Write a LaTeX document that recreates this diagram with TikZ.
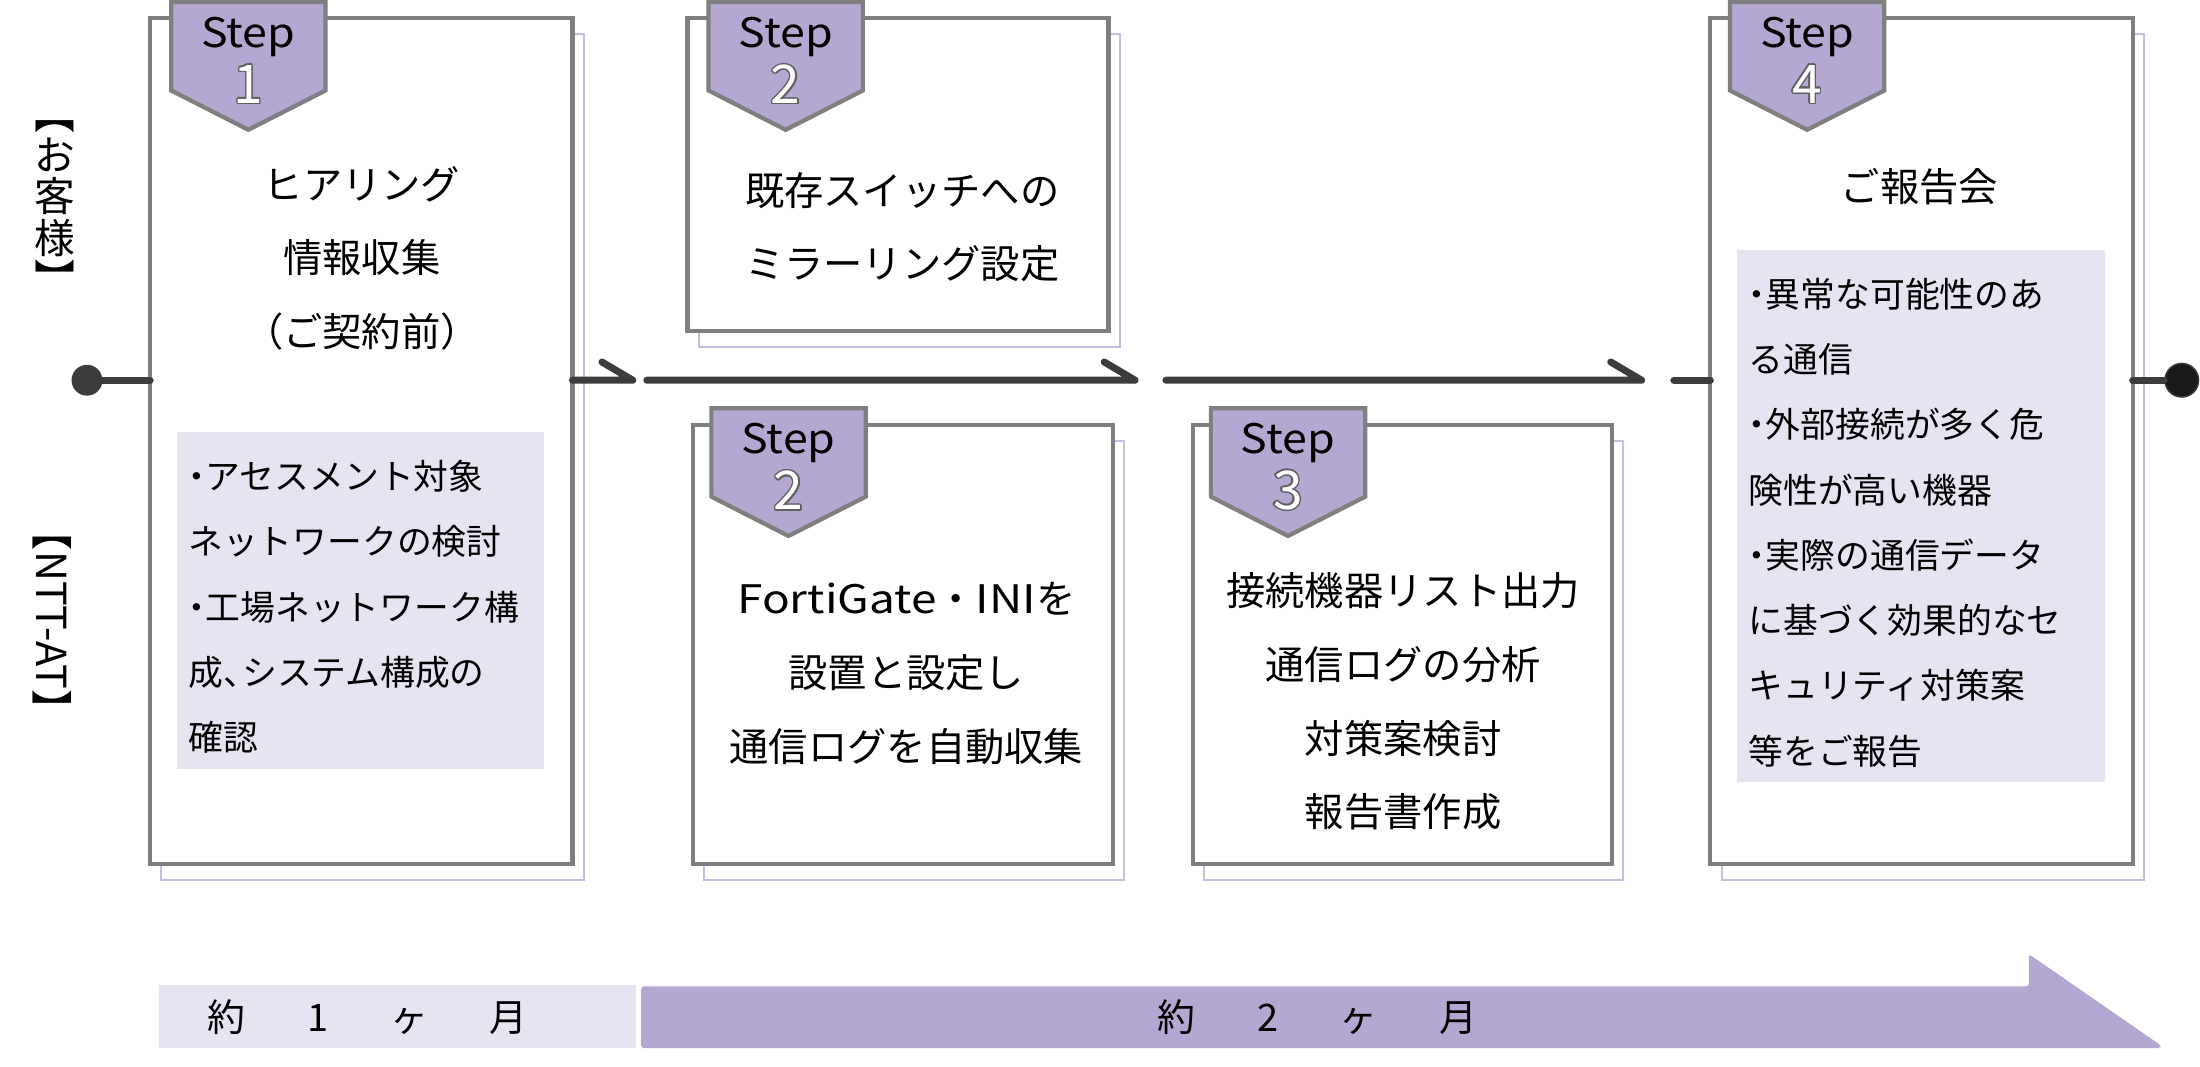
\documentclass[tikz,border=0pt]{standalone}
\usepackage{fontspec}
\setmainfont{Noto Sans CJK JP}
\usepackage{graphicx}
\usepackage[copies]{contour}
\contourlength{1pt}
\definecolor{tablav}{HTML}{B4A7D1}
\definecolor{lightlav}{HTML}{E7E3F1}
\definecolor{shadowlav}{HTML}{C7BCE2}
\definecolor{boxgray}{HTML}{7F7F7F}
\definecolor{linegray}{HTML}{3C3C3C}
\definecolor{numgray}{HTML}{606060}
\newcommand\nd{\makebox[0.5em][c]{・}}
\newcommand\tn{\makebox[0.55em][l]{、}}
\newcommand\wl[1]{\scalebox{1.17}[1]{#1}}
\newcommand\steptab[4]{%
  \draw[tabshape] (#2-55,#3) -- (#2+55,#3) -- (#2+55,#3+63) -- (#2,#3+91) -- (#2-55,#3+63) -- cycle;
  \node[steplbl] (#1s) at (#2,#3+25) {\scalebox{1.1}[1]{Step}};
  \node[stepnum] (#1n) at (#2,#3+59) {\contour{numgray}{#4}};
}
\begin{document}
\begin{tikzpicture}[x=1pt,y=-1pt,
  boxst/.style={draw=boxgray,line width=3pt,fill=white,inner sep=0,outer sep=0},
  shadowst/.style={draw=shadowlav,line width=1.5pt,inner sep=0,outer sep=0},
  innerst/.style={fill=lightlav,inner sep=0,outer sep=0},
  tabshape/.style={draw=boxgray,fill=tablav,line width=3pt,line join=miter},
  steplbl/.style={inner sep=0,font=\fontsize{29}{30}\selectfont},
  stepnum/.style={inner sep=0,text=white,font=\fontsize{38}{40}\selectfont},
  ttext/.style={inner sep=0,align=center,font=\fontsize{28}{52.5}\selectfont},
  itext/.style={inner sep=0,align=left,font=\fontsize{24.8}{46.5}\selectfont},
  vtext/.style={inner sep=0,align=center,font={\fontsize{29}{29.5}\selectfont\lineskiplimit=-50pt}},
  htext/.style={inner sep=0,font=\fontsize{29.5}{30}\selectfont},
  btext/.style={inner sep=0,font=\fontsize{27}{30}\selectfont},
  tl/.style={draw=linegray,line width=5pt,line cap=round,line join=round}]
\useasboundingbox (0,0) rectangle (1568,760);

% side labels
\node[vtext] (kyaku) at (39,140) {\rotatebox[origin=c]{-90}{【}\\お\\客\\様\\\rotatebox[origin=c]{-90}{】}};
\node[htext,rotate=-90] (nttat) at (37,442) {【NTT-AT】};

% shadows
\node[shadowst,minimum width=301,minimum height=603] (s1) at (265.5,325.5) {};
\node[shadowst,minimum width=300,minimum height=223] (s2u) at (648,135.5) {};
\node[shadowst,minimum width=299,minimum height=313] (s2l) at (651.5,470.5) {};
\node[shadowst,minimum width=299,minimum height=313] (s3) at (1007.5,470.5) {};
\node[shadowst,minimum width=301,minimum height=603] (s4) at (1377.5,325.5) {};

% timeline points
\node[circle,fill=linegray,minimum size=22,inner sep=0] (dotL) at (62,271) {};
\node[circle,fill=black!90,draw=linegray,line width=1pt,minimum size=24,inner sep=0] (dotR) at (1555,271) {};
\coordinate (c1e) at (451,271);
\coordinate (c1h) at (429,258);
\coordinate (c2s) at (461,271);
\coordinate (c2e) at (809,271);
\coordinate (c2h) at (787,258);
\coordinate (c3s) at (831,271);
\coordinate (c3e) at (1170,271);
\coordinate (c3h) at (1148,258);
\coordinate (c4s) at (1193,271);

% boxes
\node[boxst,minimum width=301,minimum height=603] (b1) at (257.5,314.5) {};
\node[boxst,minimum width=300,minimum height=223] (b2u) at (640,124.5) {};
\node[boxst,minimum width=299,minimum height=313] (b2l) at (643.5,459.5) {};
\node[boxst,minimum width=299,minimum height=313] (b3) at (999.5,459.5) {};
\node[boxst,minimum width=301,minimum height=603] (b4) at (1369.5,314.5) {};

% connectors
\draw[tl] (dotL) -- (b1.west |- dotL);
\draw[tl] (b1.east |- dotL) -- (c1e) -- (c1h);
\draw[tl] (c2s) -- (c2e) -- (c2h);
\draw[tl] (c3s) -- (c3e) -- (c3h);
\draw[tl] (c4s) -- (b4.west |- dotL);
\draw[tl] (b4.east |- dotL) -- (dotR);

% inner boxes
\node[innerst,minimum width=262,minimum height=240] (i1) at (257,428) {};
\node[innerst,minimum width=262,minimum height=379] (i4) at (1369,367.5) {};

% tabs
\steptab{p1}{177}{1.5}{1}
\steptab{p2u}{560}{1.5}{2}
\steptab{p2l}{562}{291}{2}
\steptab{p3}{918}{291}{3}
\steptab{p4}{1288}{1.5}{4}

% titles
\node[ttext] (h1) at (258,184) {ヒアリング\\情報収集\\（ご契約前）};
\node[ttext] (h2u) at (643,162) {既存スイッチへの\\ミラーリング設定};
\node[ttext] (h2l) at (646,480) {\wl{FortiGate}・\wl{INI}を\\設置と設定し\\通信ログを自動収集};
\node[ttext] (h3) at (1000,500) {接続機器リスト出力\\通信ログの分析\\対策案検討\\報告書作成};
\node[ttext] (h4) at (1368,133) {ご報告会};

% inner texts
\node[itext,anchor=west] (t1) at (134,432.5) {\nd アセスメント対象\\ネットワークの検討\\\nd 工場ネットワーク構\\成\tn システム構成の\\確認};
\node[itext,anchor=west] (t4) at (1246,372.5) {\nd 異常な可能性のあ\\る通信\\\nd 外部接続が多く危\\険性が高い機器\\\nd 実際の通信データ\\に基づく効果的なセ\\キュリティ対策案\\等をご報告};

% bottom bar
\node[innerst,minimum width=340,minimum height=45] (m1) at (283,724.5) {};
\fill[tablav,rounded corners=2pt] (457,703) -- (1446,703) -- (1446,680) -- (1540,745) -- (1540,747) -- (457,747) -- cycle;
\node[btext] (m1t) at (262,725) {約\hspace{44pt}1\hspace{44pt}ヶ\hspace{44pt}月};
\node[btext] (m2t) at (939,725) {約\hspace{44pt}2\hspace{44pt}ヶ\hspace{44pt}月};
\end{tikzpicture}
\end{document}
